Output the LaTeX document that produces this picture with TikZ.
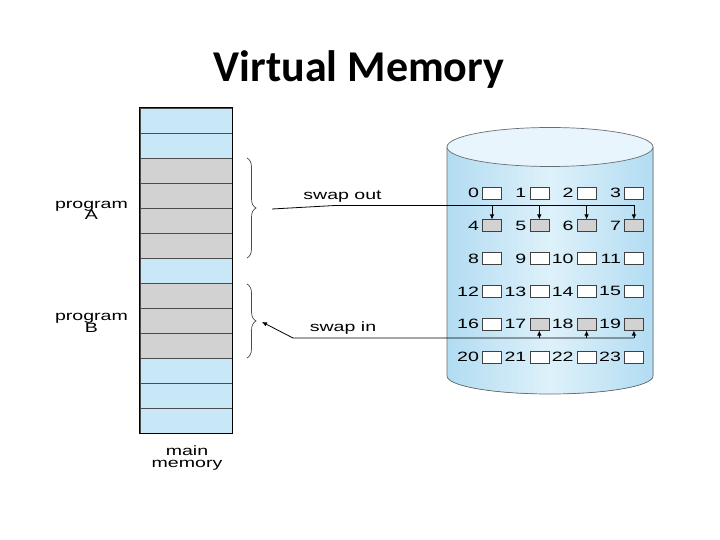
\documentclass[tikz,border=0pt]{standalone}
\usepackage{fontspec}
\setmainfont{Liberation Sans}
\newfontfamily\titlefont{Carlito}
\usetikzlibrary{arrows.meta,decorations.pathreplacing}
\definecolor{memblue}{RGB}{200,232,248}
\definecolor{cellgray}{RGB}{210,210,210}
\definecolor{cylside}{RGB}{178,220,242}
\definecolor{cylmid}{RGB}{222,241,250}
\definecolor{cyltop}{RGB}{232,245,252}
\definecolor{cyledge}{RGB}{105,110,115}
\newcommand\wtxt[1]{\scalebox{1.45}[1]{#1}}
\begin{document}
\begin{tikzpicture}[x=1pt,y=-1pt,
  lbl/.style={font=\fontsize{13.5}{14}\selectfont, inner sep=0pt, anchor=base},
  num/.style={font=\fontsize{13.5}{14}\selectfont, inner sep=0pt, anchor=east},
  cell/.style={draw=black!70, line width=0.6pt, minimum width=92pt, minimum height=25pt, inner sep=0pt},
  blk/.style={draw=black!75, line width=0.6pt, minimum width=19pt, minimum height=12pt, inner sep=0pt},
  arr/.style={-{Latex[length=5pt,width=4.5pt]}, line width=0.8pt},
  wire/.style={line width=0.8pt},
  bracestyle/.style={decorate, decoration={brace, amplitude=9pt}, draw=black!70, line width=0.7pt},
  cyl/.style={draw=cyledge, line width=0.7pt}]
\useasboundingbox[fill=white] (0,0) rectangle (720,540);

% title
\node[font=\titlefont\bfseries\fontsize{44}{48}\selectfont, anchor=base, inner sep=0pt] (title) at (359,82) {Virtual Memory};

% main memory column
\foreach \i in {0,...,12}{
  \def\fc{memblue}
  \ifnum\i>1 \ifnum\i<6 \def\fc{cellgray}\fi\fi
  \ifnum\i>6 \ifnum\i<10 \def\fc{cellgray}\fi\fi
  \node[cell, fill=\fc] (m\i) at (186,120.5+25*\i) {};
}
\draw[line width=1.2pt] (m0.north west) rectangle (m12.south east);
\node[lbl] (mm1) at (187,455) {\wtxt{main}};
\node[lbl] (mm2) at (187,467) {\wtxt{memory}};

% program labels
\node[lbl] (pa1) at (91.5,208) {\wtxt{program}};
\node[lbl] (pa2) at (91.5,220) {\wtxt{A}};
\node[lbl] (pb1) at (91.5,320) {\wtxt{program}};
\node[lbl] (pb2) at (91.5,332) {\wtxt{B}};

% braces
\draw[bracestyle] (247,158) -- (247,258);
\draw[bracestyle] (247,284) -- (247,358);
\coordinate (ta) at (272,209);
\coordinate (tb) at (262,322);

% disk cylinder
\fill[left color=cylside, right color=cylside, middle color=cylmid]
  (447,147) -- (447,376) arc[start angle=180, end angle=360, x radius=103pt, y radius=18pt] -- (653,147) -- cycle;
\draw[cyl] (447,147) -- (447,376) arc[start angle=180, end angle=360, x radius=103pt, y radius=18pt] -- (653,147);
\draw[cyl, fill=cyltop] (550,147) ellipse [x radius=103pt, y radius=19.5pt];

% blocks
\foreach \r in {0,...,5}{
  \foreach \c in {0,...,3}{
    \pgfmathtruncatemacro\n{4*\r+\c}
    \def\fc{white}
    \ifnum\n>3 \ifnum\n<8 \def\fc{cellgray}\fi\fi
    \ifnum\n>16 \ifnum\n<20 \def\fc{cellgray}\fi\fi
    \node[blk, fill=\fc] (b\n) at (492+47.3*\c,193+32.8*\r) {};
    \node[num] (l\n) at ([xshift=-3pt]b\n.west) {\wtxt{\n}};
  }
}

% swap out
\node[lbl] (sout) at (342.5,199.5) {\wtxt{swap out}};
\coordinate (so2) at (335,205.5);
\draw[wire] (ta) -- (so2) -- (so2 -| b7.north);
\foreach \n in {4,5,6,7}{
  \draw[arr] (so2 -| b\n.north) -- (b\n.north);
}

% swap in
\node[lbl] (sin) at (343,331) {\wtxt{swap in}};
\coordinate (si1) at (293,338);
\draw[arr] (si1 -| b19.south) -- (si1) -- (tb);
\foreach \n in {17,18,19}{
  \draw[arr] (si1 -| b\n.south) -- (b\n.south);
}
\end{tikzpicture}
\end{document}
